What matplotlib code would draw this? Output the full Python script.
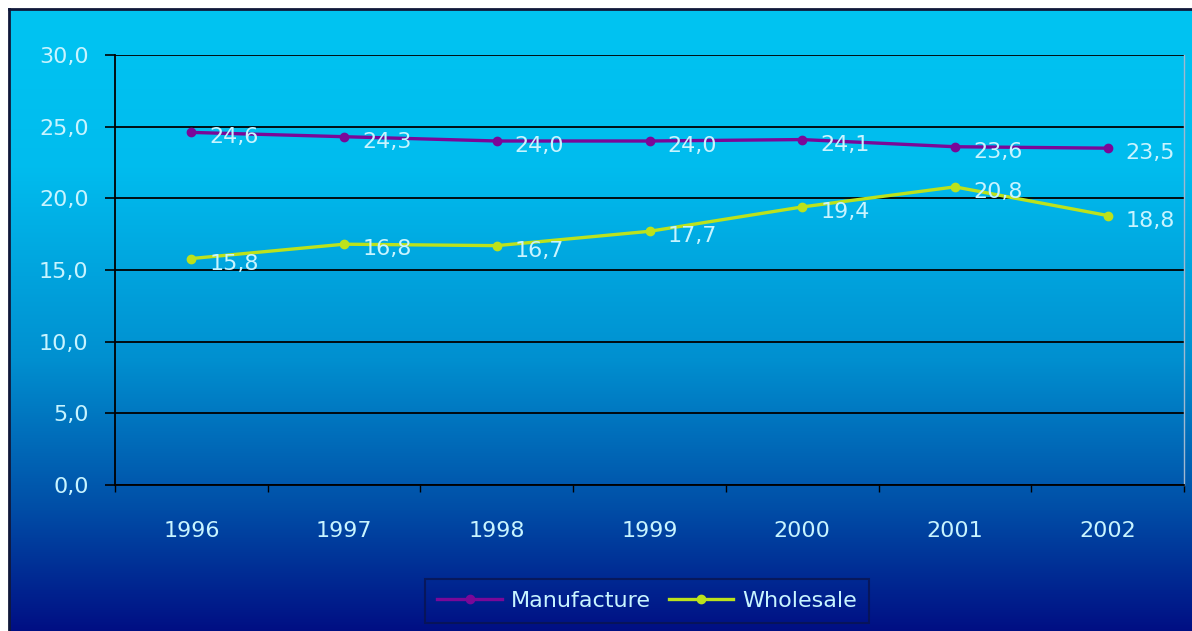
import numpy as np
import matplotlib
matplotlib.use("Agg")
import matplotlib.pyplot as plt
from matplotlib.colors import LinearSegmentedColormap
from matplotlib.lines import Line2D

years = ["1996", "1997", "1998", "1999", "2000", "2001", "2002"]
manufacture = [24.6, 24.3, 24.0, 24.0, 24.1, 23.6, 23.5]
wholesale = [15.8, 16.8, 16.7, 17.7, 19.4, 20.8, 18.8]
y_ticks = [0, 5, 10, 15, 20, 25, 30]

TEXT_COLOR = "#c8f4ff"
W, H = 1192, 631


def fmt(v):
    return f"{v:.1f}".replace(".", ",")


fig = plt.figure(figsize=(W / 100, H / 100), dpi=100)
fig.patch.set_facecolor("white")

# gradient background (cyan at top to navy at bottom)
bg = fig.add_axes([9 / W, -0.02, 1.02, 1 - 9 / H + 0.02], zorder=-10)
cmap = LinearSegmentedColormap.from_list(
    "bg",
    [(0.0, "#00c4f2"), (0.25, "#00bcee"), (0.55, "#0090d0"),
     (0.78, "#0050a8"), (1.0, "#000880")])
grad = np.linspace(0, 1, 256).reshape(-1, 1)
bg.imshow(grad, aspect="auto", cmap=cmap, extent=[0, 1, 0, 1])
bg.set_axis_off()
# dark edge on top and left only
fig.add_artist(Line2D([9 / W, 9 / W], [0, 1 - 9 / H], transform=fig.transFigure,
                      color="#10183a", lw=2))
fig.add_artist(Line2D([9 / W, 1], [1 - 9 / H, 1 - 9 / H], transform=fig.transFigure,
                      color="#10183a", lw=2))

ax = fig.add_axes([115 / W, 1 - 485 / H, (1184 - 115) / W, (485 - 55) / H])
ax.set_facecolor("none")

x = np.arange(len(years))
ax.plot(x, manufacture, color="#7a0898", lw=2.4, marker="o", ms=6,
        label="Manufacture", zorder=3)
ax.plot(x, wholesale, color="#bce21c", lw=2.4, marker="o", ms=6,
        label="Wholesale", zorder=3)

for xi, v in zip(x, manufacture):
    ax.annotate(fmt(v), (xi, v), xytext=(18, -5), textcoords="offset pixels",
                ha="left", va="center", color=TEXT_COLOR, fontsize=16, zorder=4)
for xi, v in zip(x, wholesale):
    ax.annotate(fmt(v), (xi, v), xytext=(18, -5), textcoords="offset pixels",
                ha="left", va="center", color=TEXT_COLOR, fontsize=16, zorder=4)

ax.set_xlim(-0.5, len(years) - 0.5)
ax.set_ylim(0, 30)
ax.set_yticks(y_ticks)
ax.set_yticklabels([fmt(v) for v in y_ticks])
ax.set_xticks(x)
ax.set_xticklabels(years)
ax.set_xticks(np.arange(len(years) + 1) - 0.5, minor=True)

ax.grid(axis="y", color="black", lw=1.3, zorder=1)
ax.set_axisbelow(True)
ax.tick_params(axis="y", colors="black", labelcolor=TEXT_COLOR, length=7,
               width=1.2, pad=12, labelsize=16)
ax.tick_params(axis="x", which="major", length=0, pad=26,
               labelcolor=TEXT_COLOR, labelsize=16)
ax.tick_params(axis="x", which="minor", length=5, width=1, color="black")

ax.spines["top"].set_visible(False)
ax.spines["right"].set_color("#a0b8d0")
ax.spines["right"].set_linewidth(1)
ax.spines["left"].set_color("black")
ax.spines["left"].set_linewidth(1.3)
ax.spines["bottom"].set_color("black")
ax.spines["bottom"].set_linewidth(1.3)

leg = fig.legend(loc="center", bbox_to_anchor=(647 / W, 1 - 601 / H),
                 ncol=2, fontsize=16, frameon=True, fancybox=False,
                 handlelength=2.9, columnspacing=0.8, handletextpad=0.4,
                 borderpad=0.55)
leg.get_frame().set_facecolor("none")
leg.get_frame().set_edgecolor("#0a1450")
leg.get_frame().set_linewidth(1.5)
for t in leg.get_texts():
    t.set_color(TEXT_COLOR)

fig.savefig("out.png", dpi=100)
